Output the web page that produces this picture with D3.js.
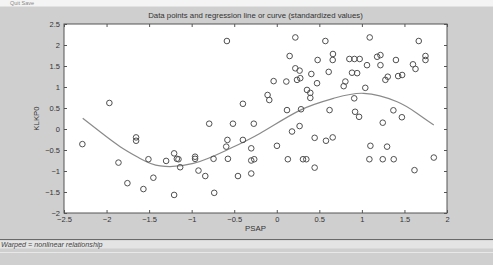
<!DOCTYPE html>
<html>
<head>
<meta charset="utf-8">
<script src="https://cdn.jsdelivr.net/npm/d3@7"></script>
<style>
  html, body { margin: 0; padding: 0; background: #cfcfcf; }
  svg { display: block; font-family: "Liberation Sans", Arial, sans-serif; }
</style>
</head>
<body>
<div id="chart"></div>
<script>
// data (standardized values)
const psap = [-0.586, -1.967, -0.398, -0.794, -0.515, -0.27,
  0.218, 0.571, 1.092, 1.668, 0.151, 0.66, 0.48, 0.657, 0.853, 0.912, 0.974,
  1.179, 1.218, 1.4, 1.747, 1.747, 0.218, 0.268, 0.406, 0.61, 1.06, 1.218,
  1.6, 1.63, 0.884, 0.944, -0.037, 0.112, 0.238, 0.276, 0.473, 1.276, 1.304,
  1.426, 1.473, 0.806, 0.786, -0.108, -0.088, 0.355, 0.394, 0.394, 1.04, 0.91,
  0.12, 0.285, 0.62, 0.92, 0.967, 1.37, 1.47, 0.268, 1.245,
  -2.284, -1.653, -1.653, -1.86, -1.508, -1.30, -1.206, -1.155, -1.174, -1.135,
  -0.96, -0.96, -0.743, -0.574, -0.58, -0.594, -0.398, -0.30, -0.30, -0.265,
  -0.30, -0.92, -0.84, -0.456, -1.45, -1.755, -1.567, -1.206, -0.735,
  0.002, 0.179, 0.445, 0.578, 0.657, 0.13, 0.308, 0.347, 0.445, 1.10, 1.296,
  1.088, 1.245, 1.374, 1.618, 1.845]
const klkp0 = [2.095, 0.62, 0.60, 0.126, 0.126, 0.126,
  2.18, 2.095, 2.18, 2.095, 1.738, 1.786, 1.643, 1.643, 1.667, 1.667, 1.667,
  1.72, 1.76, 1.643, 1.738, 1.643, 1.445, 1.39, 1.31, 1.36, 1.52, 1.52,
  1.54, 1.43, 1.34, 1.33, 1.14, 1.13, 1.17, 1.21, 1.09, 1.17, 1.245,
  1.26, 1.286, 1.13, 1.02, 0.81, 0.69, 0.93, 0.86, 0.74, 0.98, 0.73,
  0.45, 0.47, 0.45, 0.41, 0.29, 0.445, 0.28, 0.07, 0.15,
  -0.36, -0.2, -0.28, -0.80, -0.72, -0.76, -0.58, -0.72, -0.71, -0.91,
  -0.66, -0.71, -0.71, -0.71, -0.26, -0.42, -0.26, -0.46, -0.75, -0.72,
  -1.06, -0.99, -1.12, -1.12, -1.16, -1.29, -1.43, -1.57, -1.52,
  -0.40, -0.06, -0.21, -0.28, -0.20, -0.72, -0.72, -0.72, -0.92, -0.40, -0.42,
  -0.72, -0.72, -0.72, -0.98, -0.68]

// regression curve
const curveX = [-2.28, -2.08, -1.84, -1.606, -1.37, -0.98, -0.586, -0.194, 0.276, 0.668, 1.02, 1.414, 1.65, 1.845]
const curveY = [0.255, -0.06, -0.42, -0.70, -0.88, -0.82, -0.50, -0.10, 0.45, 0.73, 0.85, 0.65, 0.37, 0.095]

const xTicks = [-2.5, -2, -1.5, -1, -0.5, 0, 0.5, 1, 1.5, 2]
const yTicks = [-2, -1.5, -1, -0.5, 0, 0.5, 1, 1.5, 2, 2.5]

const titleText = "Data points and regression line or curve (standardized values)"
const xLabel = "PSAP"
const yLabel = "KLKP0"
const statusText = "Warped = nonlinear relationship"
const menuText = "Quit    Save"

const width = 493
const height = 265
const margin = {top: 24, right: 46, bottom: 52, left: 64}

const svg = d3.select("#chart")
    .append("svg")
    .attr("width", width)
    .attr("height", height)

// window chrome
svg.append("rect").attr("width", width).attr("height", height).attr("fill", "#cfcfcf")
svg.append("rect").attr("width", width).attr("height", 6).attr("fill", "#f4f4f4")
svg.append("line").attr("x1", 0).attr("x2", width).attr("y1", 6.5).attr("y2", 6.5)
    .attr("stroke", "#e2e2e2")
svg.append("text").attr("x", 10).attr("y", 5).attr("font-size", 5.5).attr("fill", "#888").text(menuText)

const x = d3.scaleLinear()
    .domain([-2.5, 2])
    .range([margin.left, width - margin.right])
const y = d3.scaleLinear()
    .domain([-2, 2.5])
    .range([height - margin.bottom, margin.top])

// plot background
svg.append("rect")
    .attr("x", x(-2.5)).attr("y", y(2.5))
    .attr("width", x(2) - x(-2.5)).attr("height", y(-2) - y(2.5))
    .attr("fill", "#fff")

const tickStyle = g => {
    g.select(".domain").remove()
    g.selectAll("line").attr("stroke", "#555")
    g.selectAll("text").attr("fill", "#333").attr("font-size", 7.5)
}

svg.append("g")
    .attr("transform", `translate(0,${y(-2)})`)
    .call(d3.axisBottom(x).tickValues(xTicks).tickFormat(d3.format("")).tickSizeInner(-3).tickSizeOuter(0).tickPadding(4))
    .call(tickStyle)
svg.append("g")
    .attr("transform", `translate(0,${y(2.5)})`)
    .call(d3.axisTop(x).tickValues(xTicks).tickFormat("").tickSizeInner(-3).tickSizeOuter(0))
    .call(tickStyle)
svg.append("g")
    .attr("transform", `translate(${x(-2.5)},0)`)
    .call(d3.axisLeft(y).tickValues(yTicks).tickFormat(d3.format("")).tickSizeInner(-3).tickSizeOuter(0).tickPadding(4))
    .call(tickStyle)
svg.append("g")
    .attr("transform", `translate(${x(2)},0)`)
    .call(d3.axisRight(y).tickValues(yTicks).tickFormat("").tickSizeInner(-3).tickSizeOuter(0))
    .call(tickStyle)

// frame
svg.append("rect")
    .attr("x", x(-2.5)).attr("y", y(2.5))
    .attr("width", x(2) - x(-2.5)).attr("height", y(-2) - y(2.5))
    .attr("fill", "none").attr("stroke", "#555").attr("stroke-width", 1)

// regression curve
const curvePts = curveX.map((v, i) => [v, curveY[i]])
svg.append("path")
    .datum(curvePts)
    .attr("fill", "none")
    .attr("stroke", "#8a8a8a")
    .attr("stroke-width", 1.2)
    .attr("d", d3.line().x(d => x(d[0])).y(d => y(d[1])).curve(d3.curveNatural))

// points
svg.append("g")
    .selectAll("circle")
    .data(psap.map((v, i) => [v, klkp0[i]]))
    .enter().append("circle")
    .attr("cx", d => x(d[0]))
    .attr("cy", d => y(d[1]))
    .attr("r", 2.8)
    .attr("fill", "none")
    .attr("stroke", "#505050")
    .attr("stroke-width", 1)

// titles
svg.append("text")
    .attr("x", (x(-2.5) + x(2)) / 2).attr("y", 18)
    .attr("text-anchor", "middle").attr("font-size", 7.8).attr("fill", "#333")
    .text(titleText)
svg.append("text")
    .attr("x", (x(-2.5) + x(2)) / 2).attr("y", 231)
    .attr("text-anchor", "middle").attr("font-size", 7.8).attr("fill", "#333")
    .text(xLabel)
svg.append("text")
    .attr("transform", `translate(39,${(y(-2) + y(2.5)) / 2}) rotate(-90)`)
    .attr("text-anchor", "middle").attr("font-size", 7.8).attr("fill", "#333")
    .text(yLabel)

// status bar
svg.append("line").attr("x1", 0).attr("x2", width).attr("y1", 239.5).attr("y2", 239.5)
    .attr("stroke", "#6a6a6a").attr("stroke-width", 1.2)
svg.append("rect").attr("x", 0).attr("y", 240.5).attr("width", width).attr("height", 8).attr("fill", "#e4e4e4")
svg.append("text")
    .attr("x", 1).attr("y", 247)
    .attr("font-size", 7.2).attr("font-style", "italic").attr("fill", "#444")
    .text(statusText)
svg.append("line").attr("x1", 0).attr("x2", width).attr("y1", 252.5).attr("y2", 252.5)
    .attr("stroke", "#e8e8e8")
</script>
</body>
</html>
